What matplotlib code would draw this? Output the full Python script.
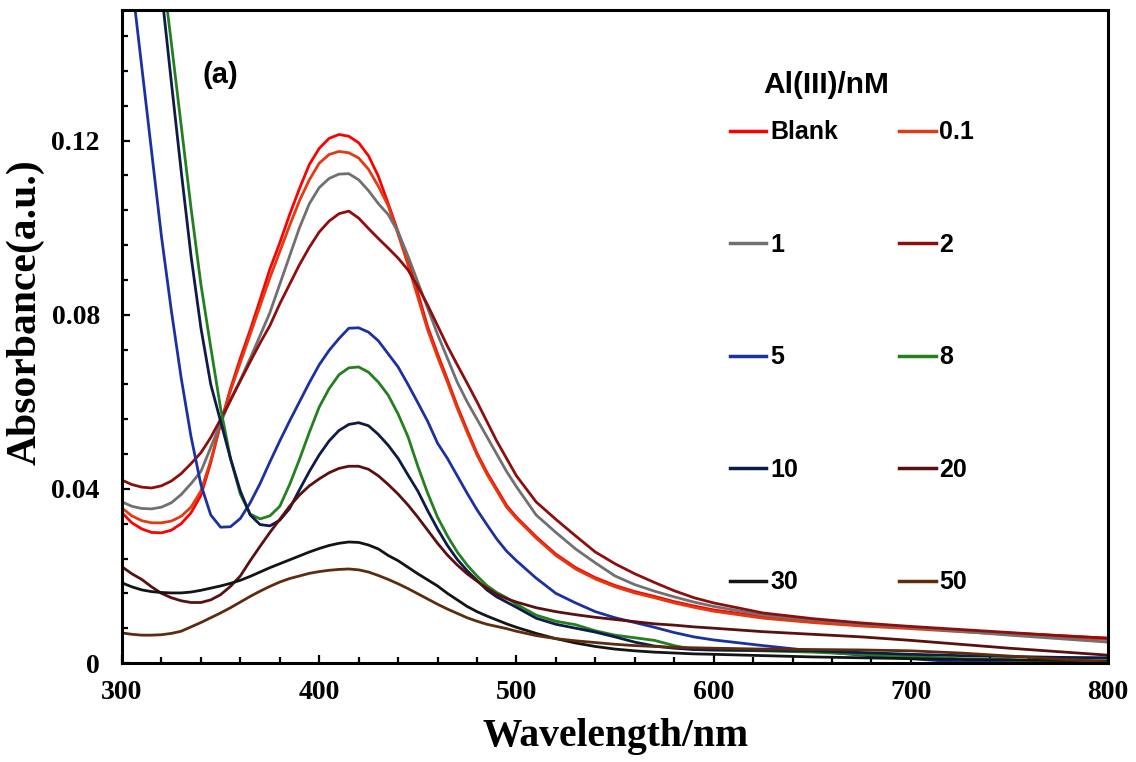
import matplotlib.pyplot as plt
from matplotlib.ticker import MultipleLocator
from matplotlib.lines import Line2D

# Wavelength grid of the spectra (nm)
wavelength = [300, 305, 310, 315, 320, 325, 330, 335, 340, 345,
              350, 355, 360, 365, 370, 375, 380, 385, 390, 395,
              400, 405, 410, 415, 420, 425, 430, 435, 440, 445,
              450, 455, 460, 465, 470, 475, 480, 485, 490, 495,
              500,
              510, 520, 530, 540, 550, 560, 570, 580, 590, 600,
              625, 650, 675, 700, 725, 750, 775, 800]

# Absorbance for each Al(III) concentration
absBlank = [0.0345, 0.0322, 0.0308, 0.0300, 0.0299, 0.0305, 0.0320, 0.0345, 0.0385, 0.0460,
            0.0550, 0.0630, 0.0700, 0.0765, 0.0834, 0.0905, 0.0965, 0.1030, 0.1090, 0.1145,
            0.1182, 0.1205, 0.1214, 0.1210, 0.1195, 0.1165, 0.1118, 0.1055, 0.0990, 0.0925,
            0.0850, 0.0772, 0.0710, 0.0651, 0.0590, 0.0535, 0.0482, 0.0438, 0.0400, 0.0362,
            0.0335,
            0.0290, 0.0250, 0.0219, 0.0196, 0.0178, 0.0164, 0.0153, 0.0141, 0.0131, 0.0122,
            0.0106, 0.0096, 0.0088, 0.0082, 0.0075, 0.0069, 0.0063, 0.0057]

abs0_1 = [0.0356, 0.0338, 0.0327, 0.0322, 0.0322, 0.0326, 0.0337, 0.0358, 0.0395, 0.0465,
          0.0550, 0.0625, 0.0690, 0.0755, 0.0820, 0.0885, 0.0945, 0.1005, 0.1062, 0.1110,
          0.1148, 0.1168, 0.1175, 0.1172, 0.1160, 0.1134, 0.1095, 0.1050, 0.0985, 0.0915,
          0.0840, 0.0765, 0.0703, 0.0645, 0.0585, 0.0530, 0.0478, 0.0434, 0.0396, 0.0358,
          0.0332,
          0.0287, 0.0247, 0.0216, 0.0193, 0.0175, 0.0161, 0.0150, 0.0138, 0.0128, 0.0119,
          0.0103, 0.0093, 0.0085, 0.0079, 0.0072, 0.0066, 0.0060, 0.0054]

abs1 = [0.0370, 0.0360, 0.0355, 0.0354, 0.0358, 0.0368, 0.0387, 0.0412, 0.0440, 0.0495,
        0.0552, 0.0605, 0.0650, 0.0700, 0.0752, 0.0805, 0.0870, 0.0935, 0.1000, 0.1055,
        0.1092, 0.1113, 0.1123, 0.1124, 0.1110, 0.1085, 0.1055, 0.1030, 0.0990, 0.0935,
        0.0875, 0.0815, 0.0755, 0.0700, 0.0645, 0.0600, 0.0560, 0.0520, 0.0480, 0.0440,
        0.0405,
        0.0340, 0.0300, 0.0262, 0.0230, 0.0200, 0.0180, 0.0165, 0.0152, 0.0140, 0.0130,
        0.0110, 0.0099, 0.0090, 0.0082, 0.0073, 0.0064, 0.0056, 0.0048]

abs2 = [0.0420, 0.0410, 0.0404, 0.0402, 0.0407, 0.0418, 0.0435, 0.0458, 0.0483, 0.0518,
        0.0560, 0.0603, 0.0648, 0.0692, 0.0735, 0.0775, 0.0825, 0.0870, 0.0915, 0.0955,
        0.0990, 0.1015, 0.1032, 0.1038, 0.1022, 0.0998, 0.0975, 0.0953, 0.0930, 0.0903,
        0.0865, 0.0822, 0.0775, 0.0728, 0.0685, 0.0643, 0.0600, 0.0555, 0.0510, 0.0470,
        0.0430,
        0.0370, 0.0330, 0.0292, 0.0255, 0.0228, 0.0205, 0.0185, 0.0166, 0.0150, 0.0138,
        0.0115, 0.0102, 0.0092, 0.0084, 0.0077, 0.0070, 0.0063, 0.0057]

abs5 = [0.1760, 0.1565, 0.1370, 0.1175, 0.0980, 0.0810, 0.0655, 0.0520, 0.0410, 0.0340,
        0.0312, 0.0313, 0.0332, 0.0368, 0.0412, 0.0462, 0.0510, 0.0556, 0.0600, 0.0644,
        0.0685, 0.0718, 0.0745, 0.0769, 0.0770, 0.0760, 0.0740, 0.0710, 0.0680, 0.0640,
        0.0598, 0.0555, 0.0505, 0.0470, 0.0430, 0.0390, 0.0352, 0.0318, 0.0285, 0.0257,
        0.0235,
        0.0195, 0.0160, 0.0138, 0.0118, 0.0104, 0.0093, 0.0082, 0.0070, 0.0060, 0.0053,
        0.0040, 0.0028, 0.0018, 0.0010, 0.0002, 0.0001, 0.0000, 0.0000]

abs8 = [0.2370, 0.2180, 0.1990, 0.1800, 0.1610, 0.1425, 0.1235, 0.1045, 0.0870, 0.0725,
        0.0585, 0.0470, 0.0388, 0.0342, 0.0331, 0.0338, 0.0360, 0.0410, 0.0468, 0.0530,
        0.0588, 0.0630, 0.0662, 0.0678, 0.0680, 0.0668, 0.0645, 0.0615, 0.0572, 0.0520,
        0.0452, 0.0390, 0.0335, 0.0292, 0.0255, 0.0225, 0.0200, 0.0178, 0.0162, 0.0150,
        0.0135,
        0.0110, 0.0096, 0.0088, 0.0074, 0.0064, 0.0058, 0.0052, 0.0040, 0.0031, 0.0030,
        0.0028, 0.0025, 0.0020, 0.0015, 0.0010, 0.0008, 0.0002, 0.0000]

abs10 = [0.2360, 0.2150, 0.1950, 0.1750, 0.1545, 0.1335, 0.1130, 0.0935, 0.0770, 0.0640,
         0.0555, 0.0470, 0.0395, 0.0340, 0.0318, 0.0315, 0.0328, 0.0355, 0.0398, 0.0440,
         0.0478, 0.0510, 0.0534, 0.0548, 0.0552, 0.0545, 0.0525, 0.0500, 0.0470, 0.0432,
         0.0395, 0.0350, 0.0308, 0.0270, 0.0238, 0.0212, 0.0190, 0.0168, 0.0152, 0.0140,
         0.0128,
         0.0103, 0.0089, 0.0080, 0.0071, 0.0060, 0.0048, 0.0039, 0.0034, 0.0031, 0.0030,
         0.0029, 0.0028, 0.0024, 0.0020, 0.0017, 0.0015, 0.0013, 0.0012]

abs20 = [0.0221, 0.0205, 0.0192, 0.0175, 0.0160, 0.0150, 0.0143, 0.0139, 0.0139, 0.0145,
         0.0157, 0.0176, 0.0200, 0.0235, 0.0268, 0.0300, 0.0330, 0.0360, 0.0386, 0.0407,
         0.0423, 0.0437, 0.0447, 0.0452, 0.0452, 0.0445, 0.0430, 0.0410, 0.0388, 0.0363,
         0.0335, 0.0305, 0.0275, 0.0248, 0.0225, 0.0205, 0.0188, 0.0172, 0.0158, 0.0148,
         0.0140,
         0.0127, 0.0118, 0.0111, 0.0105, 0.0100, 0.0095, 0.0090, 0.0087, 0.0083, 0.0080,
         0.0072, 0.0066, 0.0060, 0.0052, 0.0043, 0.0034, 0.0026, 0.0018]

abs30 = [0.0184, 0.0175, 0.0168, 0.0164, 0.0162, 0.0161, 0.0161, 0.0163, 0.0167, 0.0172,
         0.0177, 0.0183, 0.0190, 0.0199, 0.0209, 0.0219, 0.0228, 0.0237, 0.0246, 0.0255,
         0.0263, 0.0270, 0.0275, 0.0278, 0.0277, 0.0271, 0.0262, 0.0247, 0.0235, 0.0220,
         0.0205, 0.0191, 0.0177, 0.0160, 0.0145, 0.0130, 0.0118, 0.0108, 0.0099, 0.0090,
         0.0082,
         0.0068, 0.0056, 0.0046, 0.0038, 0.0032, 0.0028, 0.0025, 0.0023, 0.0021, 0.0020,
         0.0017, 0.0014, 0.0012, 0.0010, 0.0008, 0.0007, 0.0006, 0.0005]

abs50 = [0.0069, 0.0066, 0.0064, 0.0064, 0.0065, 0.0068, 0.0073, 0.0083, 0.0093, 0.0104,
         0.0115, 0.0127, 0.0140, 0.0153, 0.0165, 0.0176, 0.0186, 0.0194, 0.0200, 0.0206,
         0.0210, 0.0213, 0.0215, 0.0216, 0.0214, 0.0209, 0.0201, 0.0192, 0.0182, 0.0171,
         0.0159, 0.0147, 0.0135, 0.0124, 0.0114, 0.0104, 0.0096, 0.0089, 0.0084, 0.0079,
         0.0073,
         0.0063, 0.0056, 0.0051, 0.0047, 0.0043, 0.0040, 0.0038, 0.0036, 0.0035, 0.0034,
         0.0032, 0.0031, 0.0030, 0.0028, 0.0023, 0.0016, 0.0009, 0.0002]

# Legend labels and line colours, one per concentration
labels = ['Blank', '0.1', '1', '2', '5', '8', '10', '20', '30', '50']
colors = ['#FF0000', '#E23A12', '#707070', '#8E0E0E', '#1C30A2',
          '#24801E', '#0E1A48', '#5A1010', '#141414', '#5E2C0C']
spectra = [absBlank, abs0_1, abs1, abs2, abs5, abs8, abs10, abs20, abs30, abs50]

serif = 'Liberation Serif'
sans = 'Liberation Sans'

fig, ax = plt.subplots(figsize=(11.36, 7.62), dpi=100)
fig.subplots_adjust(left=0.1074, right=0.9754, bottom=0.1299, top=0.9869)

# Plot each spectrum
lines = []
for lab, col, spec in zip(labels, colors, spectra):
    ln, = ax.plot(wavelength, spec, color=col, lw=2.0, label=lab,
                  solid_joinstyle='round')
    lines.append(ln)

# Axis ranges and ticks
ax.set_xlim(300, 800)
ax.set_ylim(0, 0.15)
ax.set_xticks([300, 400, 500, 600, 700, 800])
ax.set_yticks([0, 0.04, 0.08, 0.12])
ax.set_yticklabels(['0', '0.04', '0.08', '0.12'])
ax.xaxis.set_minor_locator(MultipleLocator(20))
ax.yaxis.set_minor_locator(MultipleLocator(0.008))
ax.tick_params(which='both', direction='in', top=False, right=False, width=1.6)
ax.tick_params(which='major', length=6)
ax.tick_params(which='minor', length=4.5)
ax.tick_params(axis='y', pad=16)
ax.tick_params(axis='x', pad=12)
for t in ax.get_xticklabels() + ax.get_yticklabels():
    t.set_fontfamily(serif)
    t.set_fontweight('bold')
    t.set_fontsize(20)

for sp in ax.spines.values():
    sp.set_linewidth(2.2)

# Axis labels
ax.set_xlabel('Wavelength/nm', fontfamily=serif, fontweight='bold', fontsize=28.5)
ax.set_ylabel('Absorbance(a.u.)', fontfamily=serif, fontweight='bold', fontsize=30)
ax.xaxis.set_label_coords(0.5, -0.084)
ax.yaxis.set_label_coords(-0.078, 0.5375)

# Panel tag
ax.text(0.100, 0.900, '(a)', transform=ax.transAxes, ha='center', va='center',
        fontfamily=sans, fontweight='bold', fontsize=21)

# Legend in two columns, row order Blank/0.1, 1/2, 5/8, 10/20, 30/50
order = [0, 2, 4, 6, 8, 1, 3, 5, 7, 9]
handles = [Line2D([], [], color=lines[i].get_color(), lw=2.5) for i in order]
leg = ax.legend(handles, [labels[i] for i in order], ncol=2, frameon=False,
                loc='upper left', bbox_to_anchor=(0.6166, 0.831),
                borderpad=0, borderaxespad=0, handlelength=1.45, handletextpad=0.15,
                columnspacing=2.46, labelspacing=3.54,
                prop={'family': sans, 'weight': 'bold', 'size': 18})
ax.text(0.714, 0.885, 'Al(III)/nM', transform=ax.transAxes, ha='center', va='center',
        fontfamily=sans, fontweight='bold', fontsize=21.5)

fig.savefig('out.png', dpi=100)
